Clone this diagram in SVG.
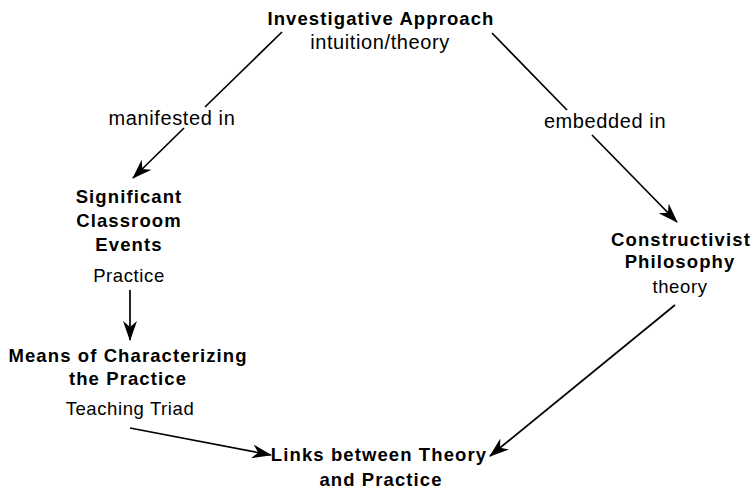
<svg xmlns="http://www.w3.org/2000/svg" width="755" height="493" viewBox="0 0 755 493">
<style>
.b{font-family:"Liberation Sans",Arial,sans-serif;font-weight:bold;font-size:18.5px;letter-spacing:1.1px;text-anchor:middle;fill:#000}
.n{font-family:"Liberation Sans",Arial,sans-serif;font-size:18.5px;letter-spacing:0.6px;text-anchor:middle;fill:#000}
.e{font-family:"Liberation Sans",Arial,sans-serif;font-size:20px;letter-spacing:0.6px;text-anchor:middle;fill:#000}
.l{stroke:#000;stroke-width:1.7;fill:none}
.c{stroke:#000;stroke-width:1.7;fill:none;marker-end:url(#ah)}
</style>
<defs>
<marker id="ah" viewBox="0 0 20 14" refX="19" refY="7" markerWidth="20" markerHeight="14" markerUnits="userSpaceOnUse" orient="auto">
<path d="M0,0 L20,7 L0,14 L6,7 Z" fill="#000"/>
</marker>
</defs>
<rect width="755" height="493" fill="#fff"/>
<g id="connectors">
<path class="l" d="M282,32 L205,107"/>
<path class="c" d="M184,128 L133,178"/>
<path class="l" d="M492,33 L567,110"/>
<path class="c" d="M592,135 L677,222"/>
<path class="c" d="M130,290 L130,340"/>
<path class="c" d="M130,428 L271,455"/>
<path class="c" d="M675,305 L490,456"/>
</g>
<g id="labels">
<text class="e" x="172" y="125">manifested in</text>
<text class="e" x="605" y="128">embedded in</text>
</g>
<g id="investigative">
<text class="b" x="381" y="25">Investigative Approach</text>
<text class="e" x="380" y="49">intuition/theory</text>
</g>
<g id="events">
<text class="b" x="129" y="203">Significant</text>
<text class="b" x="129" y="227">Classroom</text>
<text class="b" x="129" y="251">Events</text>
<text class="n" x="129" y="282">Practice</text>
</g>
<g id="means">
<text class="b" x="128" y="362">Means of Characterizing</text>
<text class="b" x="128" y="385">the Practice</text>
<text class="n" x="130" y="415">Teaching Triad</text>
</g>
<g id="constructivist">
<text class="b" x="681" y="246">Constructivist</text>
<text class="b" x="680" y="268">Philosophy</text>
<text class="n" x="680" y="293">theory</text>
</g>
<g id="links">
<text class="b" x="379" y="461">Links between Theory</text>
<text class="b" x="381" y="486">and Practice</text>
</g>
</svg>
